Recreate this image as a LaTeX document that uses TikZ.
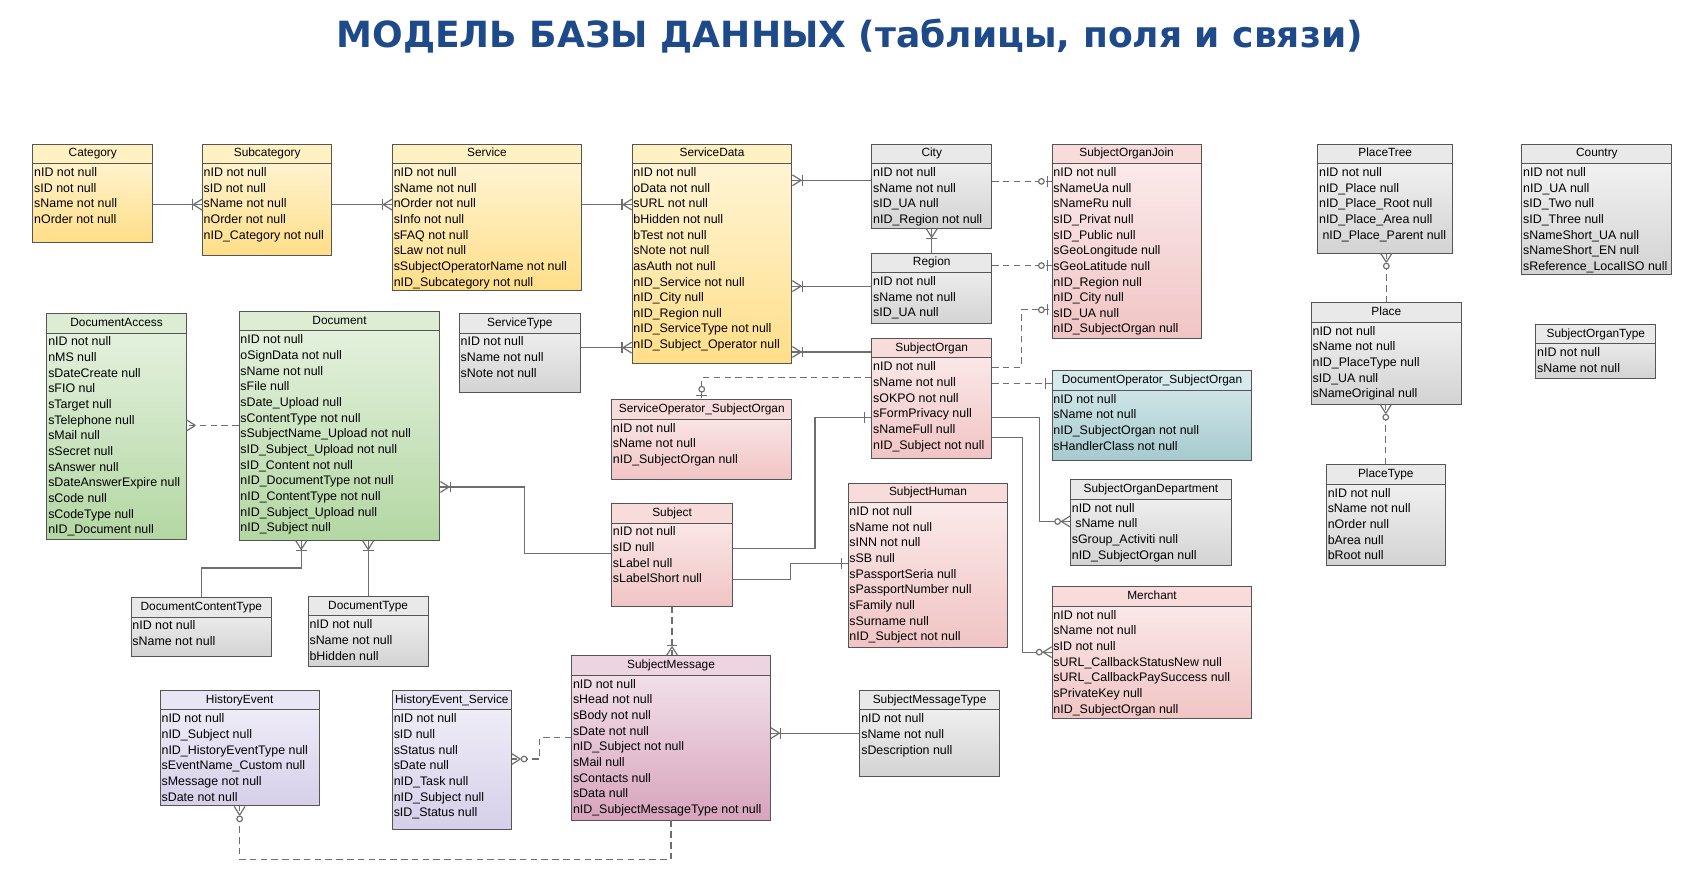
\documentclass[tikz,border=0pt]{standalone}
\usepackage{fontspec}
\setmainfont{Liberation Sans}
\newfontfamily\titlefont{DejaVu Sans}
\usetikzlibrary{decorations.markings}

\definecolor{titleblue}{HTML}{1F4A8A}
\definecolor{boxline}{HTML}{555555}
\definecolor{linkgray}{HTML}{6F6F6F}
\definecolor{yellowhead}{HTML}{FFF1C2}
\definecolor{yellowtop}{HTML}{FFF7DC}
\definecolor{yellowbot}{HTML}{FFDE88}
\definecolor{grayhead}{HTML}{E9E9E9}
\definecolor{graytop}{HTML}{F6F6F6}
\definecolor{graybot}{HTML}{D3D3D3}
\definecolor{pinkhead}{HTML}{F8DCDC}
\definecolor{pinktop}{HTML}{FCEEEE}
\definecolor{pinkbot}{HTML}{F1C4C4}
\definecolor{greenhead}{HTML}{DCEDD3}
\definecolor{greentop}{HTML}{E8F3E2}
\definecolor{greenbot}{HTML}{B3D7A3}
\definecolor{tealhead}{HTML}{D6EAEC}
\definecolor{tealtop}{HTML}{D9EBEC}
\definecolor{tealbot}{HTML}{A5CACE}
\definecolor{lavenderhead}{HTML}{E8E5F4}
\definecolor{lavendertop}{HTML}{F3F1FA}
\definecolor{lavenderbot}{HTML}{D5CFE9}
\definecolor{mauvehead}{HTML}{EED3E0}
\definecolor{mauvetop}{HTML}{F5E7EE}
\definecolor{mauvebot}{HTML}{D7A4BD}

\tikzset{
  tblbody/.style={draw=boxline, line width=0.9pt, anchor=north west, inner sep=0pt},
  tblhead/.style={draw=boxline, line width=0.9pt, anchor=north west, inner sep=0pt,
    minimum height=18pt, text height=8pt, text depth=2.5pt,
    font=\fontsize{11}{12}\selectfont},
  tblrow/.style={anchor=west, inner xsep=1.5pt, inner ysep=0pt,
    text height=8.3pt, text depth=2.5pt, font=\fontsize{11.5}{13}\selectfont},
  link/.style={draw=linkgray, line width=1.1pt},
  optional/.style={link, dash pattern=on 6pt off 4pt},
  footline/.style={draw=linkgray, line width=1.1pt, solid},
  endmark/.style={postaction={decorate,
    decoration={markings, mark=at position 1 with {#1}}}},
  onemany/.style={endmark={\crowfoot\barmark{9pt}}},
  zeromany/.style={endmark={\crowfoot\ringmark{11.5pt}}},
  zeroone/.style={endmark={\barmark{4pt}\ringmark{9.5pt}}},
  oneonly/.style={endmark={\barmark{6pt}}},
  manyonly/.style={endmark={\crowfoot}},
}
\newcommand{\crowfoot}{\draw[footline] (-8pt,0) -- (0,5pt) (-8pt,0) -- (0,-5pt);}
\newcommand{\barmark}[1]{\draw[footline] (-#1,-5pt) -- (-#1,5pt);}
\newcommand{\ringmark}[1]{\draw[footline, fill=white] (-#1,0) circle (2.6pt);}

% name, palette, left, top, width, height, title, fields
\newcommand{\dbtable}[8]{%
  \node[tblbody, top color=#2top, bottom color=#2bot,
    minimum width=#5pt, minimum height=#6pt] (#1) at (#3,#4) {};
  \node[tblhead, fill=#2head, minimum width=#5pt] (#1-h) at (#1.north west) {#7};
  \foreach \fld [count=\k] in {#8}
    \node[tblrow] (#1-\k) at ([yshift={-13pt-\k*14.5pt}]#1.north west) {\fld};
}

\begin{document}
\begin{tikzpicture}[x=1pt, y=-1pt]
  \fill[white] (0,0) rectangle (1568,818);
  \useasboundingbox (0,0) rectangle (1568,818);

  \node[font=\titlefont\bfseries\fontsize{33.4}{40}\selectfont, text=titleblue]
    (title) at (787,33) {МОДЕЛЬ БАЗЫ ДАННЫХ (таблицы, поля и связи)};

  % tables
  \dbtable{cat}{yellow}{30}{133}{111}{91}{Category}
    {nID not null, sID not null, sName not null, nOrder not null}
  \dbtable{subcat}{yellow}{187}{133}{120}{103}{Subcategory}
    {nID not null, sID not null, sName not null, nOrder not null, nID\_Category not null}
  \dbtable{service}{yellow}{363}{133}{175}{136}{Service}
    {nID not null, sName not null, nOrder not null, sInfo not null, sFAQ not null,
     sLaw not null, sSubjectOperatorName not null, nID\_Subcategory not null}
  \dbtable{sdata}{yellow}{585}{133}{148}{203}{ServiceData}
    {nID not null, oData not null, sURL not null, bHidden not null, bTest not null,
     sNote not null, asAuth not null, nID\_Service not null, nID\_City null,
     nID\_Region null, nID\_ServiceType not null, nID\_Subject\_Operator null}
  \dbtable{city}{gray}{807}{133}{111}{78}{City}
    {nID not null, sName not null, sID\_UA null, nID\_Region not null}
  \dbtable{region}{gray}{807}{234}{111}{65}{Region}
    {nID not null, sName not null, sID\_UA null}
  \dbtable{sojoin}{pink}{974}{133}{138}{180}{SubjectOrganJoin}
    {nID not null, sNameUa null, sNameRu null, sID\_Privat null, sID\_Public null,
     sGeoLongitude null, sGeoLatitude null, nID\_Region null, nID\_City null,
     sID\_UA null, nID\_SubjectOrgan null}
  \dbtable{ptree}{gray}{1220}{133}{125}{101}{PlaceTree}
    {nID not null, nID\_Place null, nID\_Place\_Root null, nID\_Place\_Area null,
     \ nID\_Place\_Parent null}
  \dbtable{country}{gray}{1409}{133}{139}{121}{Country}
    {nID not null, nID\_UA null, sID\_Two null, sID\_Three null, sNameShort\_UA null,
     sNameShort\_EN null, sReference\_LocalISO null}
  \dbtable{place}{gray}{1214}{280}{139}{94}{Place}
    {nID not null, sName not null, nID\_PlaceType null, sID\_UA null, sNameOriginal null}
  \dbtable{sotype}{gray}{1422}{300}{111}{50}{SubjectOrganType}
    {nID not null, sName not null}
  \dbtable{ptype}{gray}{1228}{430}{110}{93}{PlaceType}
    {nID not null, sName not null, nOrder null, bArea null, bRoot null}
  \dbtable{docacc}{green}{43}{290}{129}{209}{DocumentAccess}
    {nID not null, nMS null, sDateCreate null, sFIO nul, sTarget null, sTelephone null,
     sMail null, sSecret null, sAnswer null, sDateAnswerExpire null, sCode null,
     sCodeType null, nID\_Document null}
  \dbtable{doc}{green}{221}{288}{186}{212}{Document}
    {nID not null, oSignData not null, sName not null, sFile null, sDate\_Upload null,
     sContentType not null, sSubjectName\_Upload not null, sID\_Subject\_Upload not null,
     sID\_Content not null, nID\_DocumentType not null, nID\_ContentType not null,
     nID\_Subject\_Upload null, nID\_Subject null}
  \dbtable{stype}{gray}{425}{290}{112}{73}{ServiceType}
    {nID not null, sName not null, sNote not null}
  \dbtable{sopso}{pink}{566}{370}{167}{74}{ServiceOperator\_SubjectOrgan}
    {nID not null, sName not null, nID\_SubjectOrgan null}
  \dbtable{sorgan}{pink}{807}{313}{111}{111}{SubjectOrgan}
    {nID not null, sName not null, sOKPO not null, sFormPrivacy null, sNameFull null,
     nID\_Subject not null}
  \dbtable{doso}{teal}{974}{343}{185}{83}{DocumentOperator\_SubjectOrgan}
    {nID not null, sName not null, nID\_SubjectOrgan not null, sHandlerClass not null}
  \dbtable{sodep}{gray}{991}{444}{149}{79}{SubjectOrganDepartment}
    {nID not null, \ sName null, sGroup\_Activiti null, nID\_SubjectOrgan null}
  \dbtable{shuman}{pink}{785}{447}{148}{152}{SubjectHuman}
    {nID not null, sName not null, sINN not null, sSB null, sPassportSeria null,
     sPassportNumber null, sFamily null, sSurname null, nID\_Subject not null}
  \dbtable{subj}{pink}{566}{466}{112}{95}{Subject}
    {nID not null, sID null, sLabel null, sLabelShort null}
  \dbtable{merchant}{pink}{974}{543}{185}{122}{Merchant}
    {nID not null, sName not null, sID not null, sURL\_CallbackStatusNew null,
     sURL\_CallbackPaySuccess null, sPrivateKey null, nID\_SubjectOrgan null}
  \dbtable{dctype}{gray}{121}{553}{130}{55}{DocumentContentType}
    {nID not null, sName not null}
  \dbtable{dtype}{gray}{285}{552}{111}{65}{DocumentType}
    {nID not null, sName not null, bHidden null}
  \dbtable{smsg}{mauve}{529}{607}{184}{152}{SubjectMessage}
    {nID not null, sHead not null, sBody not null, sDate not null, nID\_Subject not null,
     sMail null, sContacts null, sData null, nID\_SubjectMessageType not null}
  \dbtable{smtype}{gray}{796}{639}{129}{80}{SubjectMessageType}
    {nID not null, sName not null, sDescription null}
  \dbtable{hevent}{lavender}{148}{639}{147}{107}{HistoryEvent}
    {nID not null, nID\_Subject null, nID\_HistoryEventType null,
     sEventName\_Custom null, sMessage not null, sDate not null}
  \dbtable{hes}{lavender}{363}{639}{110}{129}{HistoryEvent\_Service}
    {nID not null, sID null, sStatus null, sDate null, nID\_Task null,
     nID\_Subject null, sID\_Status null}

  % links
  \draw[link, onemany] (cat.east |- cat-3) -- (subcat.west |- cat-3);
  \draw[link, onemany] (subcat.east |- subcat-3) -- (service.west |- subcat-3);
  \draw[link, onemany] (service.east |- service-3) -- (sdata.west |- service-3);
  \draw[link, onemany] (city.west |- 0,167) -- (sdata.east |- 0,167);
  \draw[link, onemany] (region.west |- 0,265) -- (sdata.east |- 0,265);
  \draw[link, onemany] (stype.east |- 0,322) -- (sdata.west |- 0,322);
  \draw[link, onemany] (sorgan.west |- 0,326) -- (sdata.east |- 0,326);
  \draw[link, onemany] (region.north) -- (city.south);
  \draw[optional, zeroone] (city.east |- 0,168) -- (sojoin.west |- 0,168);
  \draw[optional, zeroone] (region.east |- 0,246) -- (sojoin.west |- 0,246);
  \draw[optional, zeroone] (sorgan.east |- 0,340) -- ++(27,0) |- (sojoin.west |- 0,287);
  \draw[optional, oneonly] (sorgan.east |- 0,355) -- (doso.west |- 0,355);
  \draw[optional, zeroone] (sorgan.west |- 0,350) -| (sopso.north);
  \draw[link, zeromany] (sorgan.east |- 0,387) -- ++(44,0) |- (sodep.west |- 0,483);
  \draw[link, zeromany] (sorgan.east |- 0,405) -- ++(28,0) |- (merchant.west |- 0,604);
  \draw[link, oneonly] (subj.east |- 0,508) -- ++(76,0) |- (sorgan.west |- 0,387);
  \draw[link, oneonly] (subj.east |- 0,537) -- ++(53,0) |- (shuman.west |- 0,522);
  \draw[link, onemany] (subj.west |- 0,513) -- ++(-80,0) |- (doc.east |- 0,451);
  \draw[optional, onemany] (subj.south) -- (subj.south |- smsg.north);
  \draw[link, onemany] (smtype.west |- 0,679) -- (smsg.east |- 0,679);
  \draw[optional, zeromany] (smsg.west |- 0,683) -- ++(-29,0) |- (hes.east |- 0,703);
  \draw[optional, zeromany] (smsg.south) -- ++(0,36) -| (hevent.south);
  \draw[optional, manyonly] (doc.west |- 0,394) -- (docacc.east |- 0,394);
  \draw[link, onemany] (dctype.north) -- ++(0,-27) -| ([xshift=58pt]doc.south west);
  \draw[link, onemany] (dtype.north) -- (dtype.north |- doc.south);
  \draw[optional, zeromany] (place.north) -- (place.north |- ptree.south);
  \draw[optional, zeromany] (ptype.north) -- (ptype.north |- place.south);
\end{tikzpicture}
\end{document}
